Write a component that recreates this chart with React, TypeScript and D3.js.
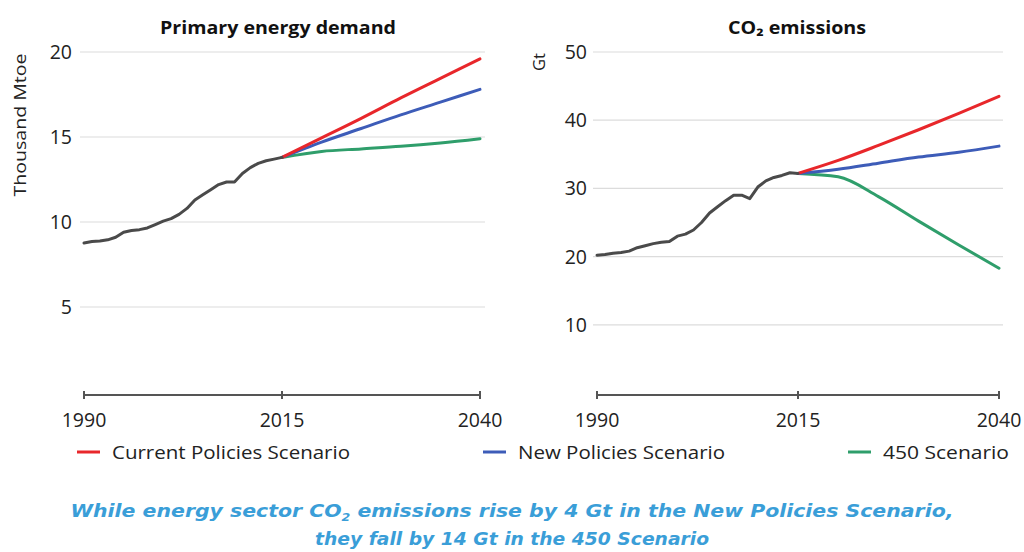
import React from "react";
import * as d3 from "d3";

const histYears = d3.range(1990, 2016);
const energyHist = [8.76, 8.85, 8.88, 8.95, 9.1, 9.4, 9.5, 9.55, 9.65, 9.85, 10.05, 10.2, 10.45, 10.8, 11.3, 11.6, 11.9, 12.2, 12.35, 12.35, 12.85, 13.2, 13.45, 13.6, 13.7, 13.8];
const co2Hist = [20.2, 20.3, 20.5, 20.6, 20.8, 21.3, 21.6, 21.9, 22.1, 22.2, 23.0, 23.3, 23.9, 25.0, 26.4, 27.3, 28.2, 29.0, 29.0, 28.5, 30.2, 31.1, 31.6, 31.9, 32.3, 32.2];

const projYears = [2015, 2020, 2025, 2030, 2035, 2040];
const energyCPS = [13.8, 14.95, 16.1, 17.3, 18.45, 19.6];
const energyNPS = [13.8, 14.7, 15.5, 16.3, 17.05, 17.8];
const energy450 = [13.8, 14.15, 14.3, 14.45, 14.65, 14.9];
const co2CPS = [32.2, 34.1, 36.3, 38.6, 41.0, 43.5];
const co2NPS = [32.2, 32.8, 33.7, 34.6, 35.3, 36.2];
const co2450 = [32.2, 31.7, 28.8, 25.2, 21.7, 18.3];

const xTicks = [1990, 2015, 2040];
const energyTicks = [5, 10, 15, 20];
const co2Ticks = [10, 20, 30, 40, 50];

const scenarios = ["Current Policies Scenario", "New Policies Scenario", "450 Scenario"];
const colors = ["#e8272b", "#3d5cb8", "#2f9e6b"];
const histColor = "#4a4a4a";

const FONT = "'Open Sans', 'DejaVu Sans', sans-serif";

type PanelProps = {
  title: React.ReactNode;
  titleLen: number;
  x0: number; x1: number;
  yMax: number;
  yTop: number; yZero: number;
  ticks: number[];
  hist: number[];
  proj: number[][];
  gridX0: number; gridX1: number;
  tickLabelX: number;
  ylabel: string; ylabelX: number; ylabelY: number; ylabelSize: number; ylabelLen: number;
  titleX: number;
};

function Panel(p: PanelProps) {
  const x = d3.scaleLinear().domain([1990, 2040]).range([p.x0, p.x1]);
  const y = d3.scaleLinear().domain([0, p.yMax]).range([p.yZero, p.yTop]);
  const histLine = d3.line<number>().x((_, i) => x(histYears[i])).y((d) => y(d));
  const projLine = d3.line<number>().x((_, i) => x(projYears[i])).y((d) => y(d)).curve(d3.curveMonotoneX);
  const axisY = 395;
  return (
    <g>
      <text x={p.titleX} y={34} textAnchor="middle" fontFamily={FONT} fontWeight={700} fontSize={17.5} fill="#111" textLength={p.titleLen} lengthAdjust="spacingAndGlyphs">{p.title}</text>
      {p.ticks.map((t) => (
        <g key={t}>
          <line x1={p.gridX0} x2={p.gridX1} y1={y(t)} y2={y(t)} stroke="#dcdcdc" strokeWidth={1.2} />
          <text x={p.tickLabelX} y={y(t) + 7} textAnchor="end" fontFamily={FONT} fontSize={19.5} fill="#222">{t}</text>
        </g>
      ))}
      <text transform={`translate(${p.ylabelX},${p.ylabelY}) rotate(-90)`} textAnchor="middle" fontFamily={FONT} fontSize={p.ylabelSize} fill="#222" textLength={p.ylabelLen} lengthAdjust="spacingAndGlyphs">{p.ylabel}</text>
      <line x1={x(1990)} x2={x(2040)} y1={axisY} y2={axisY} stroke="#555" strokeWidth={2} />
      {xTicks.map((t) => (
        <g key={t}>
          <line x1={x(t)} x2={x(t)} y1={axisY - 4} y2={axisY + 4} stroke="#555" strokeWidth={2} />
          <text x={x(t)} y={427} textAnchor="middle" fontFamily={FONT} fontSize={19.5} fill="#222">{t}</text>
        </g>
      ))}
      {p.proj.map((s, i) => (
        <path key={i} d={projLine(s) || ""} fill="none" stroke={colors[i]} strokeWidth={3} strokeLinecap="round" />
      )).reverse()}
      <path d={histLine(p.hist) || ""} fill="none" stroke={histColor} strokeWidth={3} strokeLinejoin="round" strokeLinecap="round" />
    </g>
  );
}

const legendX = [77, 483, 848];
const legendLen = [238, 207, 126];

export default function App() {
  return (
    <svg width={1024} height={552} style={{ position: "absolute", left: 0, top: 0, background: "#fff" }}>
      <rect width={1024} height={552} fill="#fff" />
      <Panel
        title="Primary energy demand"
        titleLen={236}
        x0={84} x1={480}
        yMax={20} yTop={52} yZero={392}
        ticks={energyTicks}
        hist={energyHist}
        proj={[energyCPS, energyNPS, energy450]}
        gridX0={80} gridX1={485}
        tickLabelX={72}
        ylabel="Thousand Mtoe" ylabelX={26} ylabelY={125} ylabelSize={17} ylabelLen={143}
        titleX={278}
      />
      <Panel
        title="CO₂ emissions"
        titleLen={138}
        x0={597} x1={999}
        yMax={50} yTop={52} yZero={393}
        ticks={co2Ticks}
        hist={co2Hist}
        proj={[co2CPS, co2NPS, co2450]}
        gridX0={593} gridX1={1003}
        tickLabelX={587}
        ylabel="Gt" ylabelX={545} ylabelY={62} ylabelSize={16} ylabelLen={18}
        titleX={797}
      />
      {scenarios.map((s, i) => (
        <g key={s}>
          <line x1={legendX[i]} x2={legendX[i] + 23} y1={452} y2={452} stroke={colors[i]} strokeWidth={3} />
          <text x={legendX[i] + 35} y={459} fontFamily={FONT} fontSize={18} fill="#222" textLength={legendLen[i]} lengthAdjust="spacingAndGlyphs">{s}</text>
        </g>
      ))}
      <text x={512} y={517} textAnchor="middle" fontFamily="'DejaVu Sans', sans-serif" fontStyle="italic" fontWeight={700} fontSize={18} fill="#3a9ed8" textLength={883} lengthAdjust="spacingAndGlyphs">
        While energy sector CO<tspan fontSize={11} dy={4}>2</tspan><tspan dy={-4}> emissions rise by 4 Gt in the New Policies Scenario,</tspan>
      </text>
      <text x={512} y={545} textAnchor="middle" fontFamily="'DejaVu Sans', sans-serif" fontStyle="italic" fontWeight={700} fontSize={18} fill="#3a9ed8" textLength={394} lengthAdjust="spacingAndGlyphs">
        they fall by 14 Gt in the 450 Scenario
      </text>
    </svg>
  );
}
